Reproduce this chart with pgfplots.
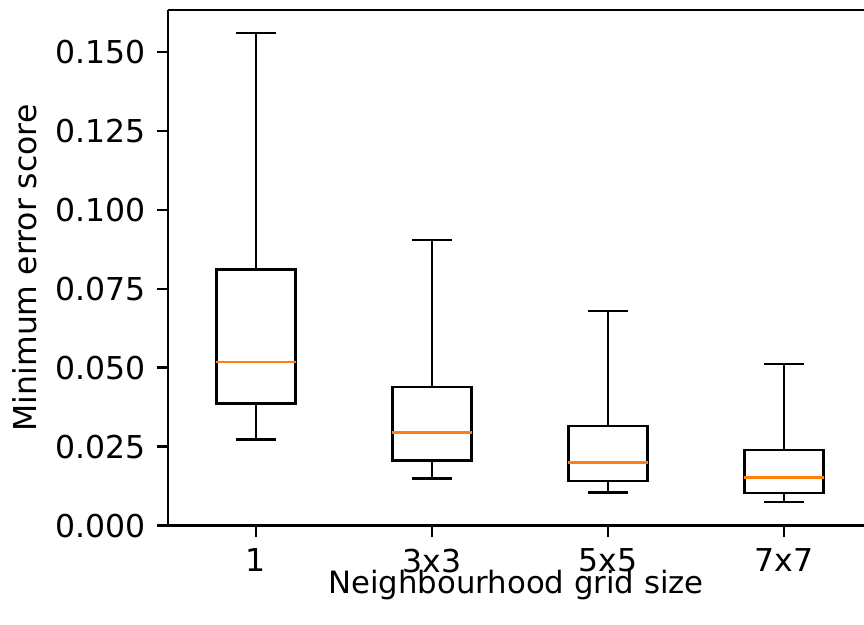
\documentclass[border=0pt]{standalone}
\usepackage{pgfplots}
\pgfplotsset{compat=1.18}
\usepgfplotslibrary{statistics}
\usepackage{fontspec}
\setmainfont{DejaVu Sans}
\definecolor{mplorange}{HTML}{FF7F0E}

\begin{document}
\fontsize{16.8}{20}\selectfont
\begin{tikzpicture}[line width=1.4pt]
\begin{axis}[
    scale only axis,
    width=371.2pt, height=275pt,
    xmin=0.5, xmax=4.4545,
    ymin=0, ymax=0.1632,
    axis x line*=box, axis y line*=left,
    axis line style={line width=1.3pt},
    xtick={1,2,3,4}, xticklabels={1,3x3,5x5,7x7},
    xtick pos=bottom, ytick pos=left,
    ytick={0,0.025,0.05,0.075,0.1,0.125,0.15},
    tick align=outside, major tick length=5.9pt,
    every tick/.style={black, line width=1.3pt},
    yticklabel style={anchor=east, inner sep=0pt, xshift=-6pt,
        /pgf/number format/.cd, fixed, fixed zerofill, precision=3},
    xticklabel style={anchor=north, inner sep=0pt, yshift=-6.3pt},
    /pgf/number format/assume math mode=true,
    scaled y ticks=false,
    xlabel={Neighbourhood grid size},
    ylabel={Minimum error score},
    xlabel style={at={([yshift=-23.4pt]axis description cs:0.5,0)}, anchor=north, inner sep=0pt,
        font=\fontsize{16.4}{20}\selectfont},
    ylabel style={at={([xshift=-83.2pt]axis description cs:0,0.5)}, anchor=north, inner sep=0pt},
    every axis plot/.append style={line width=1.4pt},
    boxplot/draw direction=y,
    boxplot/box extend=0.45,
    boxplot/whisker extend=0.225,
    boxplot/every box/.style={draw=black, line width=1.4pt},
    boxplot/every whisker/.style={draw=black, line width=1.4pt},
    boxplot/every median/.style={draw=mplorange, line width=1.5pt},
]
\addplot+[black, line width=1.4pt, mark=none, boxplot prepared={draw position=1,
    lower whisker=0.0273, lower quartile=0.0386, median=0.0518,
    upper quartile=0.0810, upper whisker=0.1559}] coordinates {};
\addplot+[black, line width=1.4pt, mark=none, boxplot prepared={draw position=2,
    lower whisker=0.0149, lower quartile=0.0206, median=0.0294,
    upper quartile=0.0439, upper whisker=0.0904}] coordinates {};
\addplot+[black, line width=1.4pt, mark=none, boxplot prepared={draw position=3,
    lower whisker=0.0106, lower quartile=0.0141, median=0.0201,
    upper quartile=0.0316, upper whisker=0.0680}] coordinates {};
\addplot+[black, line width=1.4pt, mark=none, boxplot prepared={draw position=4,
    lower whisker=0.0075, lower quartile=0.0103, median=0.0153,
    upper quartile=0.0240, upper whisker=0.0512}] coordinates {};
\end{axis}
\pgfresetboundingbox
\path[use as bounding box] ([xshift=-89.6pt,yshift=-52.96pt]current axis.south west)
    rectangle ++(460.8pt,333.33pt);
\end{tikzpicture}
\end{document}
